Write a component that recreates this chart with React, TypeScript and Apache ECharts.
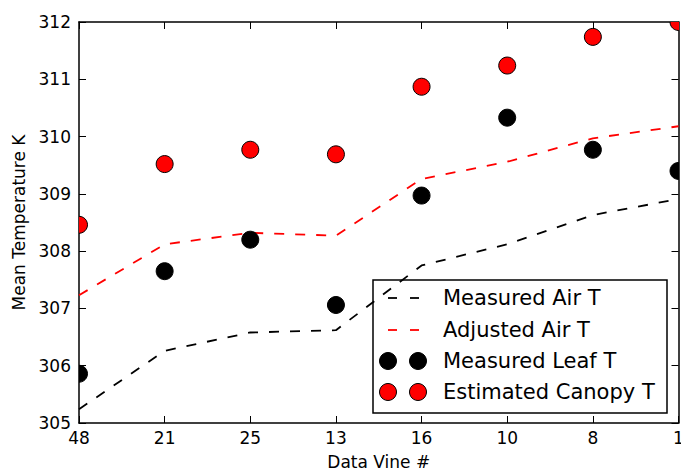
import React, { useEffect, useRef } from "react";
import * as echarts from "echarts";

const categories = ["48", "21", "25", "13", "16", "10", "8", "1"];
const measuredAir = [305.24, 306.26, 306.58, 306.62, 307.75, 308.12, 308.63, 308.91];
const adjustedAir = [307.23, 308.12, 308.32, 308.27, 309.26, 309.56, 309.97, 310.18];
const measuredLeaf = [305.86, 307.65, 308.2, 307.06, 308.97, 310.33, 309.77, 309.4];
const estimatedCanopy = [308.46, 309.52, 309.77, 309.69, 310.87, 311.24, 311.74, 312.0];
const yMin = 305;
const yMax = 312;
const yInterval = 1;

const FONT = "DejaVu Sans";

function pairs(vals: number[]) {
  return vals.map((v, i) => [i, v]);
}

function dotSeries(name: string, vals: number[], fill: string) {
  return {
    type: "custom",
    name,
    clip: true,
    z: 5,
    data: pairs(vals),
    renderItem: (params: any, api: any) => {
      const p = api.coord([api.value(0), api.value(1)]);
      return {
        type: "circle",
        shape: { cx: p[0], cy: p[1], r: 8.5 },
        style: { fill, stroke: "#000", lineWidth: 1 },
      };
    },
  };
}

function lineSeries(name: string, vals: number[], color: string) {
  return {
    type: "line",
    name,
    data: vals,
    symbol: "none",
    z: 3,
    lineStyle: { color, width: 1.8, type: [10, 11] },
  };
}

export default function App() {
  const ref = useRef<HTMLDivElement>(null);
  useEffect(() => {
    document.body.style.margin = "0";
    const chart = echarts.init(ref.current!, undefined, { renderer: "svg" });
    const axisText = { color: "#000", fontSize: 17, fontFamily: FONT };
    const legendRows = [
      { label: "Measured Air T", kind: "line", color: "#000" },
      { label: "Adjusted Air T", kind: "line", color: "#ff0000" },
      { label: "Measured Leaf T", kind: "dot", color: "#000" },
      { label: "Estimated Canopy T", kind: "dot", color: "#ff0000" },
    ];
    const rowY = [298, 330, 361, 392];
    const legendChildren: any[] = [
      {
        type: "rect",
        shape: { x: 373, y: 280, width: 294, height: 133 },
        style: { fill: "#fff", stroke: "#000", lineWidth: 1.5 },
      },
    ];
    legendRows.forEach((r, i) => {
      const y = rowY[i];
      if (r.kind === "line") {
        legendChildren.push(
          { type: "line", shape: { x1: 388, y1: y, x2: 397, y2: y }, style: { stroke: r.color, lineWidth: 1.8 } },
          { type: "line", shape: { x1: 410, y1: y, x2: 419, y2: y }, style: { stroke: r.color, lineWidth: 1.8 } }
        );
      } else {
        legendChildren.push(
          { type: "circle", shape: { cx: 388, cy: y, r: 8.5 }, style: { fill: r.color, stroke: "#000", lineWidth: 1 } },
          { type: "circle", shape: { cx: 418, cy: y, r: 8.5 }, style: { fill: r.color, stroke: "#000", lineWidth: 1 } }
        );
      }
      legendChildren.push({
        type: "text",
        x: 443,
        y,
        style: {
          text: r.label,
          fill: "#000",
          font: `21px "${FONT}"`,
          verticalAlign: "middle",
          align: "left",
        },
      });
    });

    chart.setOption({
      animation: false,
      backgroundColor: "#fff",
      grid: { left: 79, right: 2.5, top: 22, bottom: 47, outerBoundsMode: "none", containLabel: false },
      xAxis: [
        {
          type: "category",
          data: categories,
          boundaryGap: false,
          position: "bottom",
          name: "Data Vine #",
          nameLocation: "middle",
          nameGap: 30,
          nameTextStyle: axisText,
          axisLine: { lineStyle: { color: "#000", width: 1.5 } },
          axisTick: { inside: true, length: 7, alignWithLabel: true, lineStyle: { color: "#000", width: 1 } },
          axisLabel: { ...axisText, margin: 6 },
          splitLine: { show: false },
        },
        {
          type: "category",
          data: categories,
          boundaryGap: false,
          position: "top",
          axisLine: { lineStyle: { color: "#000", width: 1.5 } },
          axisTick: { inside: true, length: 7, lineStyle: { color: "#000", width: 1 } },
          axisLabel: { show: false },
          splitLine: { show: false },
        },
      ],
      yAxis: [
        {
          type: "value",
          min: yMin,
          max: yMax,
          interval: yInterval,
          position: "left",
          name: "Mean Temperature K",
          nameLocation: "middle",
          nameGap: 51,
          nameTextStyle: axisText,
          axisLine: { show: true, lineStyle: { color: "#000", width: 1.5 } },
          axisTick: { show: true, inside: true, length: 7, lineStyle: { color: "#000", width: 1 } },
          axisLabel: { ...axisText, margin: 8 },
          splitLine: { show: false },
        },
        {
          type: "value",
          min: yMin,
          max: yMax,
          interval: yInterval,
          position: "right",
          axisLine: { show: true, lineStyle: { color: "#000", width: 1.5 } },
          axisTick: { show: true, inside: true, length: 7, lineStyle: { color: "#000", width: 1 } },
          axisLabel: { show: false },
          splitLine: { show: false },
        },
      ],
      series: [
        lineSeries("Measured Air T", measuredAir, "#000"),
        lineSeries("Adjusted Air T", adjustedAir, "#ff0000"),
        dotSeries("Measured Leaf T", measuredLeaf, "#000"),
        dotSeries("Estimated Canopy T", estimatedCanopy, "#ff0000"),
      ],
      graphic: [{ type: "group", z: 100, children: legendChildren }],
    });
    return () => chart.dispose();
  }, []);
  return <div ref={ref} style={{ position: "absolute", left: 0, top: 0, width: 681, height: 470 }} />;
}
